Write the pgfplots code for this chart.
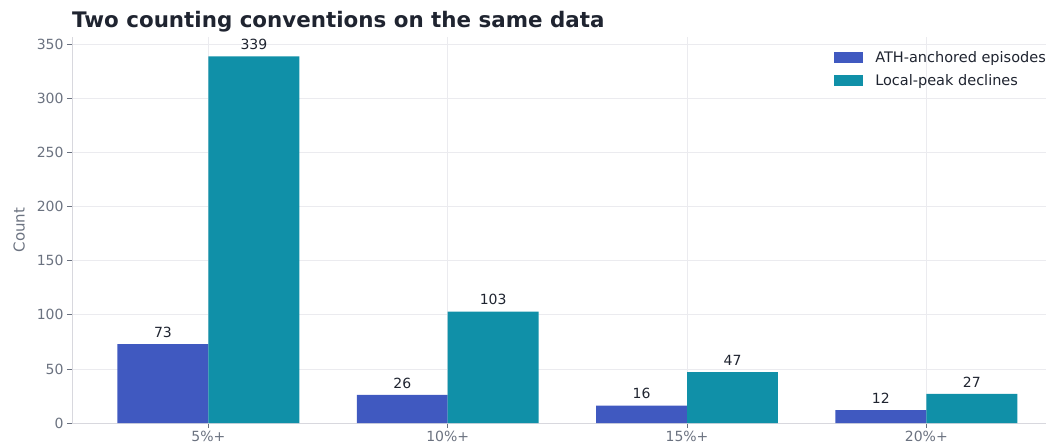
\documentclass[border=0pt]{standalone}
\usepackage{pgfplots}
\pgfplotsset{compat=1.18}
\usepackage{fontspec}
\setmainfont{DejaVu Sans}
\definecolor{cblue}{HTML}{4059C0}
\definecolor{cteal}{HTML}{1090A8}
\definecolor{gridc}{HTML}{EBEBEF}
\definecolor{axc}{HTML}{D8D8DE}
\definecolor{tickc}{HTML}{6B7280}
\definecolor{txt}{HTML}{1F2430}
\begin{document}
\begin{tikzpicture}
\begin{axis}[
  scale only axis,
  width=974bp, height=386bp,
  xmin=-0.57, xmax=3.5,
  ymin=0, ymax=357,
  ybar=0pt, bar width=0.38,
  xtick={0,1,2,3},
  xticklabels={5\%+,10\%+,15\%+,20\%+},
  ytick={0,50,...,350},
  /pgf/number format/assume math mode=true,
  tick label style={font=\fontsize{14bp}{16bp}\selectfont, text=tickc},
  xmajorgrids, ymajorgrids,
  grid style={gridc, line width=0.8bp},
  axis x line*=bottom, axis y line*=left,
  axis line style={axc, line width=0.8bp, -},
  tick align=outside,
  major tick length=5bp,
  tick style={tickc, line width=0.8bp},
  xtick pos=bottom, ytick pos=left,
  ylabel={Count},
  ylabel style={font=\fontsize{15bp}{17bp}\selectfont, text=tickc},
  every axis y label/.append style={at={(ticklabel cs:0.5)}, anchor=south, yshift=5bp},
  enlargelimits=false,
  clip=false,
  legend style={at={(1.0,1.0)}, anchor=north east, draw=none, fill=none,
     font=\fontsize{14.5bp}{16bp}\selectfont, text=txt,
     row sep=7bp, inner xsep=0pt, xshift=2bp, yshift=-10bp},
  legend cell align=left,
  legend image code/.code={\fill[#1] (0bp,-5.5bp) rectangle (29bp,5.5bp); \path (39bp,0bp);},
  nodes near coords,
  nodes near coords style={font=\fontsize{14bp}{16bp}\selectfont, text=txt, anchor=south, yshift=3bp},
]
\addplot[fill=cblue, draw=none] coordinates {(0,73) (1,26) (2,16) (3,12)};
\addlegendentry{ATH-anchored episodes}
\addplot[fill=cteal, draw=none] coordinates {(0,339) (1,103) (2,47) (3,27)};
\addlegendentry{Local-peak declines}
\end{axis}
\node[anchor=base west, font=\fontsize{21.4bp}{24bp}\selectfont\bfseries, text=txt, inner sep=0pt] at ([yshift=9bp]current axis.north west) {Two counting conventions on the same data};
\pgfresetboundingbox
\useasboundingbox ([xshift=-72bp,yshift=-23bp]current axis.south west) rectangle ([xshift=2bp,yshift=37bp]current axis.north east);
\end{tikzpicture}
\end{document}
